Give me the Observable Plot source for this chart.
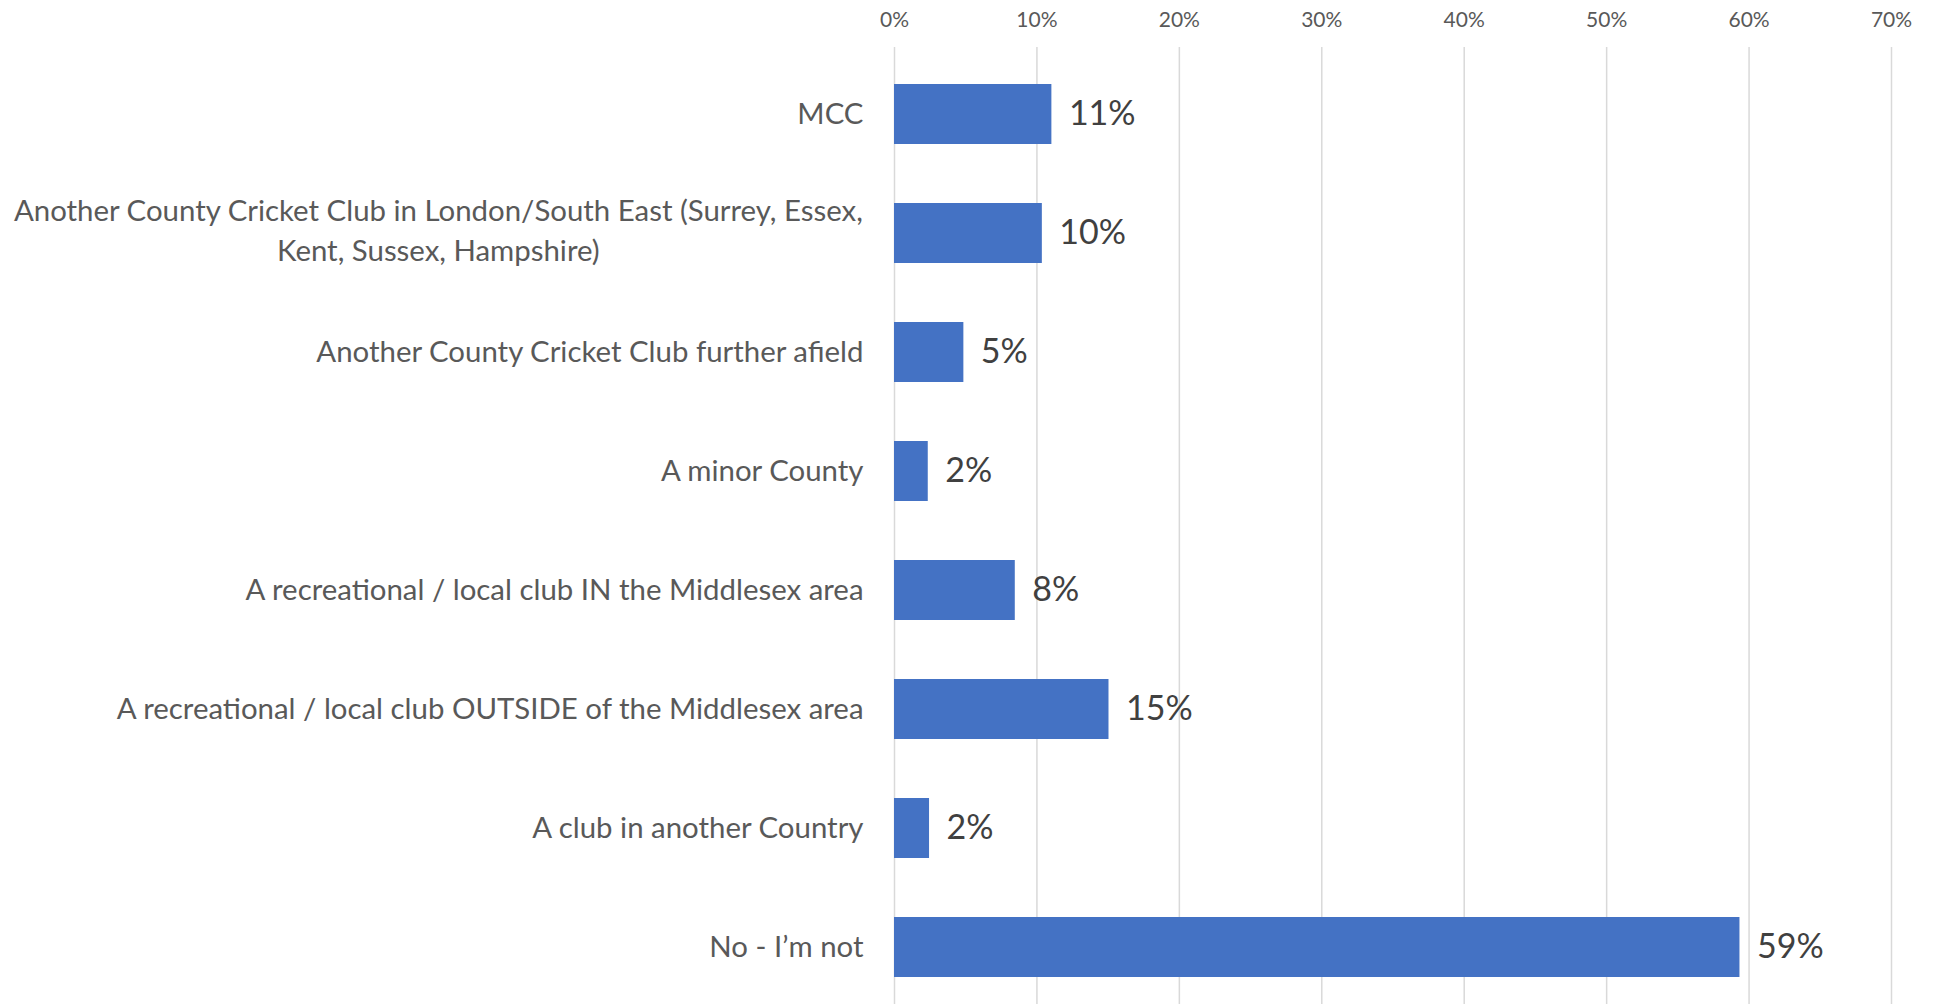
<!DOCTYPE html>
<html>
<head>
<meta charset="utf-8">
<script src="https://cdn.jsdelivr.net/npm/d3@7"></script>
<script src="https://cdn.jsdelivr.net/npm/@observablehq/plot@0.6"></script>
<style>
  html, body { margin: 0; padding: 0; background: #fff; }
  #chart { width: 1933px; height: 1004px; overflow: hidden; }
</style>
</head>
<body>
<div id="chart"></div>
<script>
const categories = [
  "MCC",
  "Another County Cricket Club in London/South East (Surrey, Essex,\nKent, Sussex, Hampshire)",
  "Another County Cricket Club further afield",
  "A minor County",
  "A recreational / local club IN the Middlesex area",
  "A recreational / local club OUTSIDE of the Middlesex area",
  "A club in another Country",
  "No - I\u2019m not"
];
const values = [11.05, 10.38, 4.87, 2.37, 8.48, 15.06, 2.46, 59.36];
const valueLabels = ["11%", "10%", "5%", "2%", "8%", "15%", "2%", "59%"];
const xTicks = [0, 10, 20, 30, 40, 50, 60, 70];

const data = categories.map((c, i) => ({category: c, value: values[i], label: valueLabels[i]}));

const FONT = "Lato, 'Open Sans', sans-serif";
const catSize = 29.4;
const ctx = document.createElement("canvas").getContext("2d");
ctx.font = `${catSize}px Lato`;
function halfWidth(s) {
  return d3.max(s.split("\n"), l => ctx.measureText(l).width) / 2;
}
const single = data.filter(d => !d.category.includes("\n"));
const multi = data.filter(d => d.category.includes("\n"));
const labelGap = 31;

const chart = Plot.plot({
  width: 1933,
  height: 1004,
  marginLeft: 894,
  marginRight: 42,
  marginTop: 47,
  marginBottom: 0,
  style: {fontFamily: FONT, background: "#fff"},
  x: {domain: [0, 70], ticks: xTicks, axis: null},
  y: {domain: categories, range: [51, 1009], paddingInner: 0.5, paddingOuter: 0.25, axis: null},
  marks: [
    Plot.gridX(xTicks, {stroke: "#d9d9d9", strokeOpacity: 1, strokeWidth: 1.5}),
    Plot.axisX(xTicks, {anchor: "top", tickSize: 0, tickPadding: 21, tickFormat: d => d + "%", fontSize: 21, fill: "#595959", label: null}),
    Plot.barX(data, {x: "value", y: "category", fill: "#4472C4"}),
    Plot.text(data, {x: "value", y: "category", text: "label", textAnchor: "start", dx: 17, fontSize: 34, fill: "#404040"}),
    Plot.text(single, {x: 0, y: "category", text: "category", textAnchor: "end", dx: -labelGap, fontSize: catSize, fill: "#595959"}),
    ...multi.map(d => Plot.text([d], {x: 0, y: "category", text: "category", textAnchor: "middle", dx: -labelGap - halfWidth(d.category), dy: -5, fontSize: catSize, lineHeight: 1.36, fill: "#595959"}))
  ]
});
document.getElementById("chart").appendChild(chart);
</script>
</body>
</html>
